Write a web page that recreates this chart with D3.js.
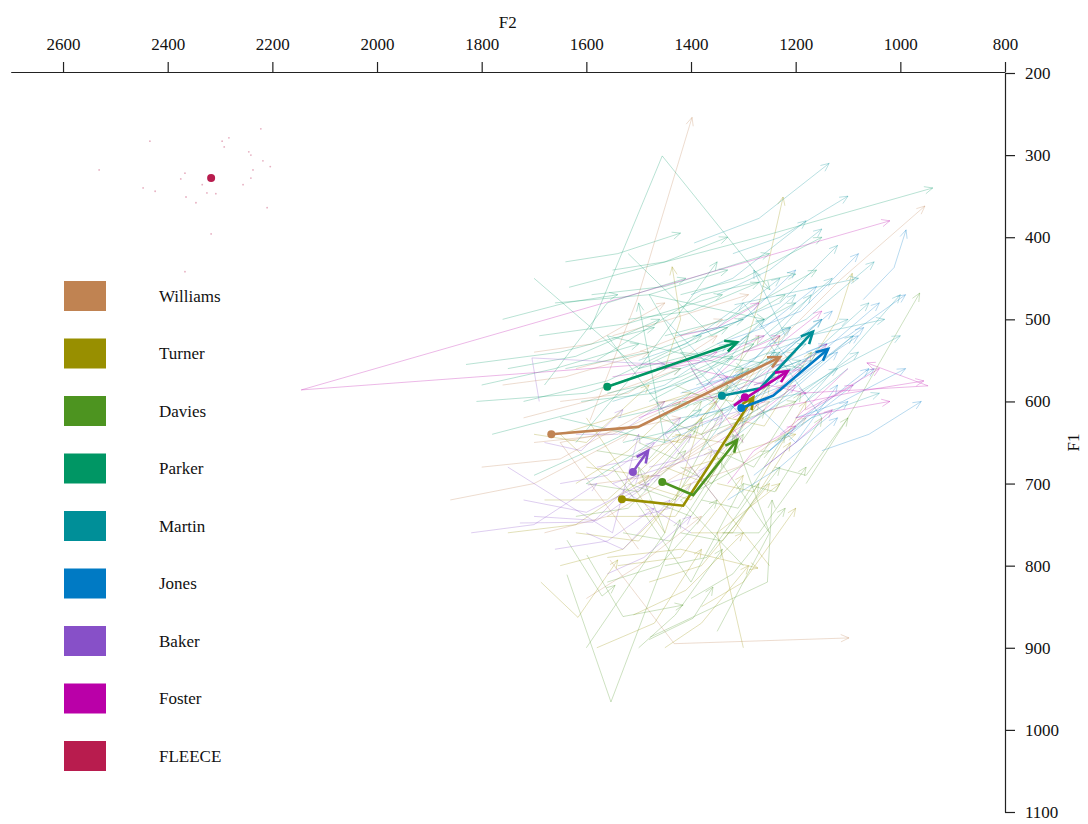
<!DOCTYPE html>
<html>
<head>
<meta charset="utf-8">
<script src="https://cdn.jsdelivr.net/npm/d3@7"></script>
<style>
  body { margin: 0; background: #ffffff; }
  text { font-family: "Liberation Serif", "Times New Roman", serif; }
</style>
</head>
<body>
<svg id="chart"></svg>
<script>
// speakers and their colours (legend order)
const speakers = ["Williams", "Turner", "Davies", "Parker", "Martin", "Jones", "Baker", "Foster"];
const speakerColours = ["#c08352", "#988f00", "#4d9420", "#009664", "#008f98", "#007ac4", "#8750c8", "#ba00a8"];
const vowelLabel = "FLEECE";
const vowelColour = "#b81c4e";

const f2Ticks = [2600, 2400, 2200, 2000, 1800, 1600, 1400, 1200, 1000, 800];
const f1Ticks = [200, 300, 400, 500, 600, 700, 800, 900, 1000, 1100];

// mean trajectories, [F2, F1] per measurement point
const meanWilliams = [[1667, 640], [1501, 631], [1230, 546]];
const meanTurner = [[1532, 719], [1415, 727], [1281, 595]];
const meanDavies = [[1455, 698], [1396, 714], [1312, 647]];
const meanParker = [[1560, 582], [1436, 555], [1312, 528]];
const meanMartin = [[1341, 593], [1268, 584], [1167, 515]];
const meanJones = [[1304, 608], [1243, 593], [1138, 536]];
const meanBaker = [[1511, 686], [1497, 673], [1482, 660]];
const meanFoster = [[1297, 595], [1318, 605], [1215, 563]];

// FLEECE target + single tokens [F2, F1]
const meanFleece = [2317, 328];
const tokensFleece = [
  [2222, 268], [2283, 279], [2296, 283], [2434, 283], [2292, 290], [2245, 296], [2241, 300],
  [2218, 307], [2204, 314], [2237, 318], [2531, 318], [2367, 322], [2375, 329], [2241, 328],
  [2447, 340], [2424, 344], [2334, 336], [2256, 336], [2325, 346], [2308, 347], [2365, 351],
  [2346, 358], [2210, 364], [2317, 396], [2367, 442]
];

// individual tokens: F2a, F1a, F2b, F1b, F2c, F1c
const tokensWilliams = [
  [1700, 650, 1550, 640, 1280, 560], [1593, 623, 1503, 476, 1398, 254], [1555, 793, 1432, 895, 1098, 888],
  [1230, 525, 1115, 452, 953, 362], [1800, 680, 1650, 670, 1450, 600], [1650, 600, 1520, 590, 1350, 520],
  [1580, 700, 1460, 690, 1300, 620], [1720, 620, 1600, 600, 1420, 560], [1500, 660, 1380, 640, 1220, 580],
  [1860, 720, 1700, 700, 1520, 640], [1620, 560, 1500, 540, 1340, 500], [1450, 600, 1350, 590, 1200, 540],
  [1680, 760, 1560, 740, 1400, 680], [1550, 520, 1440, 500, 1290, 470], [1760, 580, 1640, 570, 1480, 540],
  [1400, 700, 1310, 680, 1180, 620], [1600, 840, 1500, 800, 1380, 740], [1700, 540, 1590, 530, 1450, 480],
  [1350, 650, 1500, 700, 1250, 600], [1500, 780, 1650, 650, 1420, 620]
];
const tokensTurner = [
  [1560, 740, 1430, 740, 1300, 620], [1500, 700, 1400, 720, 1270, 600], [1620, 760, 1500, 770, 1360, 660],
  [1450, 680, 1370, 700, 1250, 580], [1680, 720, 1560, 720, 1420, 640], [1540, 800, 1420, 790, 1300, 690],
  [1400, 760, 1320, 760, 1210, 650], [1600, 680, 1490, 690, 1350, 600], [1687, 820, 1616, 863, 1540, 793],
  [1480, 820, 1380, 800, 1250, 700], [1350, 700, 1280, 710, 1180, 600], [1520, 640, 1420, 650, 1300, 560],
  [1650, 800, 1530, 780, 1400, 700], [1580, 900, 1470, 870, 1380, 780], [1430, 640, 1340, 650, 1230, 560],
  [1750, 760, 1620, 750, 1480, 690], [1380, 850, 1300, 820, 1200, 730], [1560, 790, 1420, 780, 1272, 803],
  [1330, 620, 1260, 630, 1170, 540], [1620, 700, 1520, 660, 1420, 600], [1510, 860, 1410, 830, 1300, 760],
  [1400, 590, 1320, 600, 1230, 520], [1700, 640, 1600, 650, 1480, 580], [1450, 900, 1380, 870, 1290, 800],
  [1306, 550, 1268, 476, 1224, 351], [1180, 560, 1120, 500, 1092, 444], [1450, 560, 1420, 500, 1436, 436],
  [1250, 800, 1400, 680, 1200, 640], [1600, 620, 1450, 760, 1380, 620], [1300, 900, 1350, 760, 1230, 700],
  [1550, 700, 1650, 640, 1400, 590]
];
const tokensDavies = [
  [1480, 720, 1400, 740, 1300, 640], [1420, 680, 1360, 700, 1260, 610], [1530, 760, 1440, 770, 1340, 670],
  [1637, 811, 1553, 966, 1421, 744], [1599, 787, 1530, 862, 1415, 848], [1637, 769, 1570, 837, 1545, 824],
  [1480, 890, 1396, 864, 1358, 826], [1500, 650, 1430, 670, 1330, 580], [1380, 720, 1310, 730, 1220, 640],
  [1600, 700, 1500, 710, 1390, 630], [1450, 800, 1370, 790, 1270, 700], [1350, 660, 1280, 680, 1190, 590],
  [1560, 820, 1460, 800, 1350, 720], [1420, 760, 1340, 770, 1230, 680], [1300, 700, 1240, 710, 1150, 620],
  [1520, 700, 1430, 720, 1340, 610], [1460, 620, 1380, 640, 1290, 560], [1620, 740, 1520, 730, 1410, 660],
  [1478, 887, 1254, 820, 1245, 720], [1400, 840, 1320, 810, 1220, 730], [1500, 900, 1430, 860, 1340, 780],
  [1340, 760, 1270, 760, 1180, 680], [1580, 660, 1480, 670, 1380, 600], [1240, 680, 1180, 690, 1100, 620],
  [1430, 580, 1360, 600, 1270, 520], [1180, 700, 1102, 622, 963, 468],
  [1300, 800, 1420, 720, 1250, 660], [1550, 680, 1400, 820, 1300, 700], [1250, 760, 1380, 640, 1200, 600],
  [1600, 900, 1450, 760, 1500, 680], [1350, 880, 1250, 760, 1320, 640]
];
const tokensParker = [
  [1640, 560, 1480, 540, 1300, 500], [1720, 600, 1560, 575, 1380, 520], [1590, 470, 1450, 460, 1250, 420],
  [1690, 520, 1520, 505, 1340, 470], [1540, 620, 1400, 600, 1230, 540], [1780, 640, 1600, 610, 1420, 560],
  [1620, 650, 1500, 560, 1330, 510], [1593, 513, 1455, 301, 1249, 464], [1633, 461, 1253, 397, 938, 340],
  [1500, 560, 1380, 540, 1200, 480], [1660, 480, 1480, 470, 1330, 440], [1560, 590, 1420, 570, 1280, 530],
  [1450, 520, 1330, 500, 1160, 440], [1750, 560, 1620, 545, 1460, 500], [1530, 650, 1400, 630, 1250, 580],
  [1610, 600, 1470, 590, 1320, 545], [1480, 600, 1360, 560, 1210, 510], [1700, 690, 1560, 650, 1400, 600],
  [1420, 470, 1300, 450, 1150, 400], [1640, 430, 1540, 420, 1420, 395], [1520, 500, 1400, 490, 1270, 455],
  [1800, 580, 1660, 560, 1500, 530], [1580, 550, 1380, 470, 1200, 445], [1460, 620, 1350, 590, 1190, 550],
  [1680, 580, 1560, 480, 1410, 450], [1550, 440, 1450, 430, 1330, 400], [1760, 500, 1640, 480, 1540, 470],
  [1600, 700, 1500, 660, 1380, 610], [1830, 555, 1650, 540, 1470, 510], [1810, 600, 1600, 590, 1440, 555],
  [1420, 640, 1560, 520, 1300, 560], [1700, 450, 1500, 560, 1350, 430], [1380, 580, 1480, 470, 1260, 500],
  [1650, 620, 1450, 650, 1500, 480], [1520, 420, 1360, 520, 1220, 470], [1300, 620, 1420, 540, 1180, 560]
];
const tokensMartin = [
  [1380, 600, 1290, 580, 1150, 500], [1420, 560, 1330, 540, 1200, 470], [1300, 620, 1220, 590, 1090, 520],
  [1450, 640, 1360, 600, 1240, 540], [1350, 540, 1260, 520, 1130, 450], [1400, 470, 1320, 450, 1180, 380],
  [1394, 407, 1270, 377, 1136, 310], [1280, 580, 1200, 560, 1060, 480], [1480, 590, 1380, 570, 1260, 500],
  [1330, 650, 1250, 610, 1120, 560], [1250, 520, 1180, 500, 1050, 430], [1430, 520, 1350, 510, 1230, 450],
  [1360, 610, 1300, 560, 1180, 530], [1500, 550, 1410, 530, 1300, 480], [1270, 600, 1190, 590, 1080, 540],
  [1390, 580, 1280, 550, 1170, 470], [1310, 500, 1230, 480, 1120, 410], [1460, 610, 1370, 580, 1290, 520],
  [1240, 650, 1170, 620, 1040, 590], [1350, 470, 1250, 440, 1150, 390], [1420, 620, 1330, 610, 1210, 560],
  [1290, 550, 1210, 530, 1100, 500], [1550, 600, 1450, 580, 1330, 530], [1200, 600, 1120, 560, 1000, 520],
  [1320, 420, 1230, 400, 1100, 350],
  [1200, 560, 1300, 480, 1080, 450], [1450, 500, 1300, 600, 1160, 540], [1150, 620, 1250, 530, 1030, 500],
  [1380, 660, 1220, 520, 1280, 440], [1100, 560, 1180, 600, 1000, 470]
];
const tokensJones = [
  [1350, 640, 1250, 610, 1120, 540], [1300, 600, 1220, 580, 1080, 520], [1400, 620, 1290, 600, 1170, 550],
  [1250, 660, 1180, 620, 1060, 560], [1320, 570, 1240, 550, 1130, 490], [1071, 476, 1012, 437, 989, 391],
  [1380, 580, 1270, 560, 1150, 500], [1280, 690, 1200, 650, 1100, 600], [1230, 560, 1150, 540, 1040, 480],
  [1350, 530, 1260, 510, 1160, 460], [1450, 650, 1350, 620, 1230, 570], [1200, 620, 1110, 600, 990, 560],
  [1310, 640, 1250, 560, 1140, 530], [1180, 540, 1100, 520, 990, 470], [1420, 590, 1320, 570, 1210, 510],
  [1260, 600, 1190, 570, 1070, 510], [1330, 720, 1230, 680, 1120, 620], [1150, 660, 1060, 640, 960, 600],
  [1390, 520, 1300, 500, 1200, 440], [1270, 510, 1190, 490, 1080, 420],
  [1150, 600, 1250, 660, 1050, 560], [1350, 560, 1200, 650, 1120, 580]
];
const tokensBaker = [
  [1700, 740, 1580, 745, 1480, 700], [1727, 748, 1587, 747, 1500, 690], [1650, 700, 1560, 690, 1470, 650],
  [1600, 760, 1530, 780, 1440, 720], [1540, 720, 1480, 700, 1400, 640], [1690, 600, 1704, 547, 1450, 555],
  [1580, 680, 1500, 670, 1420, 620], [1820, 760, 1700, 750, 1580, 700], [1500, 740, 1440, 730, 1370, 680],
  [1480, 680, 1420, 670, 1340, 620], [1660, 780, 1560, 770, 1470, 730], [1620, 640, 1540, 640, 1450, 600],
  [1720, 720, 1600, 735, 1460, 690], [1450, 700, 1390, 690, 1310, 640], [1560, 810, 1490, 790, 1400, 740],
  [1680, 650, 1610, 660, 1530, 610],
  [1400, 760, 1550, 700, 1350, 660], [1750, 680, 1550, 760, 1500, 640], [1350, 720, 1450, 640, 1300, 610]
];
const tokensFoster = [
  [1383, 550, 2145, 586, 1020, 380], [1190, 590, 947, 581, 1064, 553], [1250, 610, 1100, 590, 955, 575],
  [1320, 620, 1260, 600, 1190, 560], [1400, 600, 1320, 590, 1220, 550], [1280, 580, 1220, 570, 1140, 530],
  [1350, 650, 1280, 620, 1200, 580], [1450, 560, 1360, 550, 1260, 520], [1300, 540, 1230, 530, 1150, 490],
  [1230, 640, 1170, 610, 1090, 580], [1500, 620, 1420, 600, 1330, 570], [1370, 580, 1300, 540, 1230, 520],
  [1260, 680, 1200, 650, 1130, 610], [1420, 520, 1350, 510, 1270, 480], [1330, 700, 1280, 660, 1200, 630],
  [1180, 610, 1120, 590, 1040, 560], [1550, 570, 1450, 560, 1350, 540],
  [1300, 650, 1400, 560, 1180, 590], [1100, 560, 1200, 620, 1020, 600]
];

const speakerMeans = [meanWilliams, meanTurner, meanDavies, meanParker, meanMartin, meanJones, meanBaker, meanFoster];
const speakerTokens = [tokensWilliams, tokensTurner, tokensDavies, tokensParker, tokensMartin, tokensJones, tokensBaker, tokensFoster];

const width = 1088, height = 824;
const fontSize = "17px";

const svg = d3.select("#chart")
    .attr("width", width)
    .attr("height", height);

const xScale = d3.scaleLinear().domain([2700, 800]).range([10.7, 1005]);
const yScale = d3.scaleLinear().domain([200, 1100]).range([73, 812]);

// open arrow head at q, coming from p
function arrowHead(p, q, len, ang) {
    const a = Math.atan2(q[1] - p[1], q[0] - p[0]);
    const l = [q[0] - len * Math.cos(a - ang), q[1] - len * Math.sin(a - ang)];
    const r = [q[0] - len * Math.cos(a + ang), q[1] - len * Math.sin(a + ang)];
    return `M${l[0]},${l[1]}L${q[0]},${q[1]}L${r[0]},${r[1]}`;
}

const line = d3.line()
    .x(d => xScale(d[0]))
    .y(d => yScale(d[1]));

const plot = svg.append("g");

// faint single tokens
speakers.forEach((name, i) => {
    const g = plot.append("g")
        .attr("fill", "none")
        .attr("stroke", speakerColours[i])
        .attr("stroke-opacity", 0.28)
        .attr("stroke-width", 1);

    speakerTokens[i].forEach(t => {
        const pts = [[t[0], t[1]], [t[2], t[3]], [t[4], t[5]]];
        g.append("path").attr("d", line(pts));
        const px = pts.map(d => [xScale(d[0]), yScale(d[1])]);
        g.append("path").attr("d", arrowHead(px[1], px[2], 9, 0.42));
    });
});

// FLEECE tokens
plot.append("g")
    .selectAll("circle")
    .data(tokensFleece)
    .join("circle")
    .attr("cx", d => xScale(d[0]))
    .attr("cy", d => yScale(d[1]))
    .attr("r", 0.9)
    .attr("fill", vowelColour)
    .attr("fill-opacity", 0.35);

plot.append("circle")
    .attr("cx", xScale(meanFleece[0]))
    .attr("cy", yScale(meanFleece[1]))
    .attr("r", 4)
    .attr("fill", vowelColour);

// mean trajectories
speakers.forEach((name, i) => {
    const pts = speakerMeans[i];
    const px = pts.map(d => [xScale(d[0]), yScale(d[1])]);
    const g = plot.append("g");

    g.append("path")
        .attr("d", line(pts))
        .attr("fill", "none")
        .attr("stroke", speakerColours[i])
        .attr("stroke-width", 2.6);

    g.append("path")
        .attr("d", arrowHead(px[1], px[2], 13, 0.45))
        .attr("fill", "none")
        .attr("stroke", speakerColours[i])
        .attr("stroke-width", 2.6);

    g.append("circle")
        .attr("cx", px[0][0])
        .attr("cy", px[0][1])
        .attr("r", 4)
        .attr("fill", speakerColours[i]);
});

// axes
const xAxis = svg.append("g")
    .attr("transform", `translate(0, ${yScale(200) - 1})`)
    .call(d3.axisTop(xScale).tickValues(f2Ticks).tickFormat(d3.format("d"))
        .tickSize(10).tickSizeOuter(0).tickPadding(12));

const yAxis = svg.append("g")
    .attr("transform", `translate(${xScale(800)}, 0)`)
    .call(d3.axisRight(yScale).tickValues(f1Ticks).tickFormat(d3.format("d"))
        .tickSize(10).tickSizeOuter(0).tickPadding(10));

[xAxis, yAxis].forEach(ax => {
    ax.selectAll("path, line").attr("stroke", "#222").attr("stroke-width", 1.2);
    ax.selectAll("text")
        .attr("fill", "#111")
        .style("font-family", '"Liberation Serif", serif')
        .style("font-size", fontSize);
});

svg.append("text")
    .attr("x", (xScale(2700) + xScale(800)) / 2)
    .attr("y", 28)
    .attr("text-anchor", "middle")
    .attr("fill", "#111")
    .style("font-size", fontSize)
    .text("F2");

svg.append("text")
    .attr("transform", `translate(1079, ${(yScale(200) + yScale(1100)) / 2}) rotate(-90)`)
    .attr("text-anchor", "middle")
    .attr("fill", "#111")
    .style("font-size", fontSize)
    .text("F1");

// legend
const legendKeys = speakers.concat([vowelLabel]);
const legendColours = speakerColours.concat([vowelColour]);

const legend = svg.append("g");

legend.selectAll("rect")
    .data(legendKeys)
    .join("rect")
    .attr("x", 64)
    .attr("y", (d, i) => 281 + i * 57.5)
    .attr("width", 42)
    .attr("height", 30)
    .attr("fill", (d, i) => legendColours[i]);

legend.selectAll("text")
    .data(legendKeys)
    .join("text")
    .attr("x", 159)
    .attr("y", (d, i) => 301.5 + i * 57.5)
    .attr("fill", "#111")
    .style("font-size", fontSize)
    .text(d => d);
</script>
</body>
</html>
